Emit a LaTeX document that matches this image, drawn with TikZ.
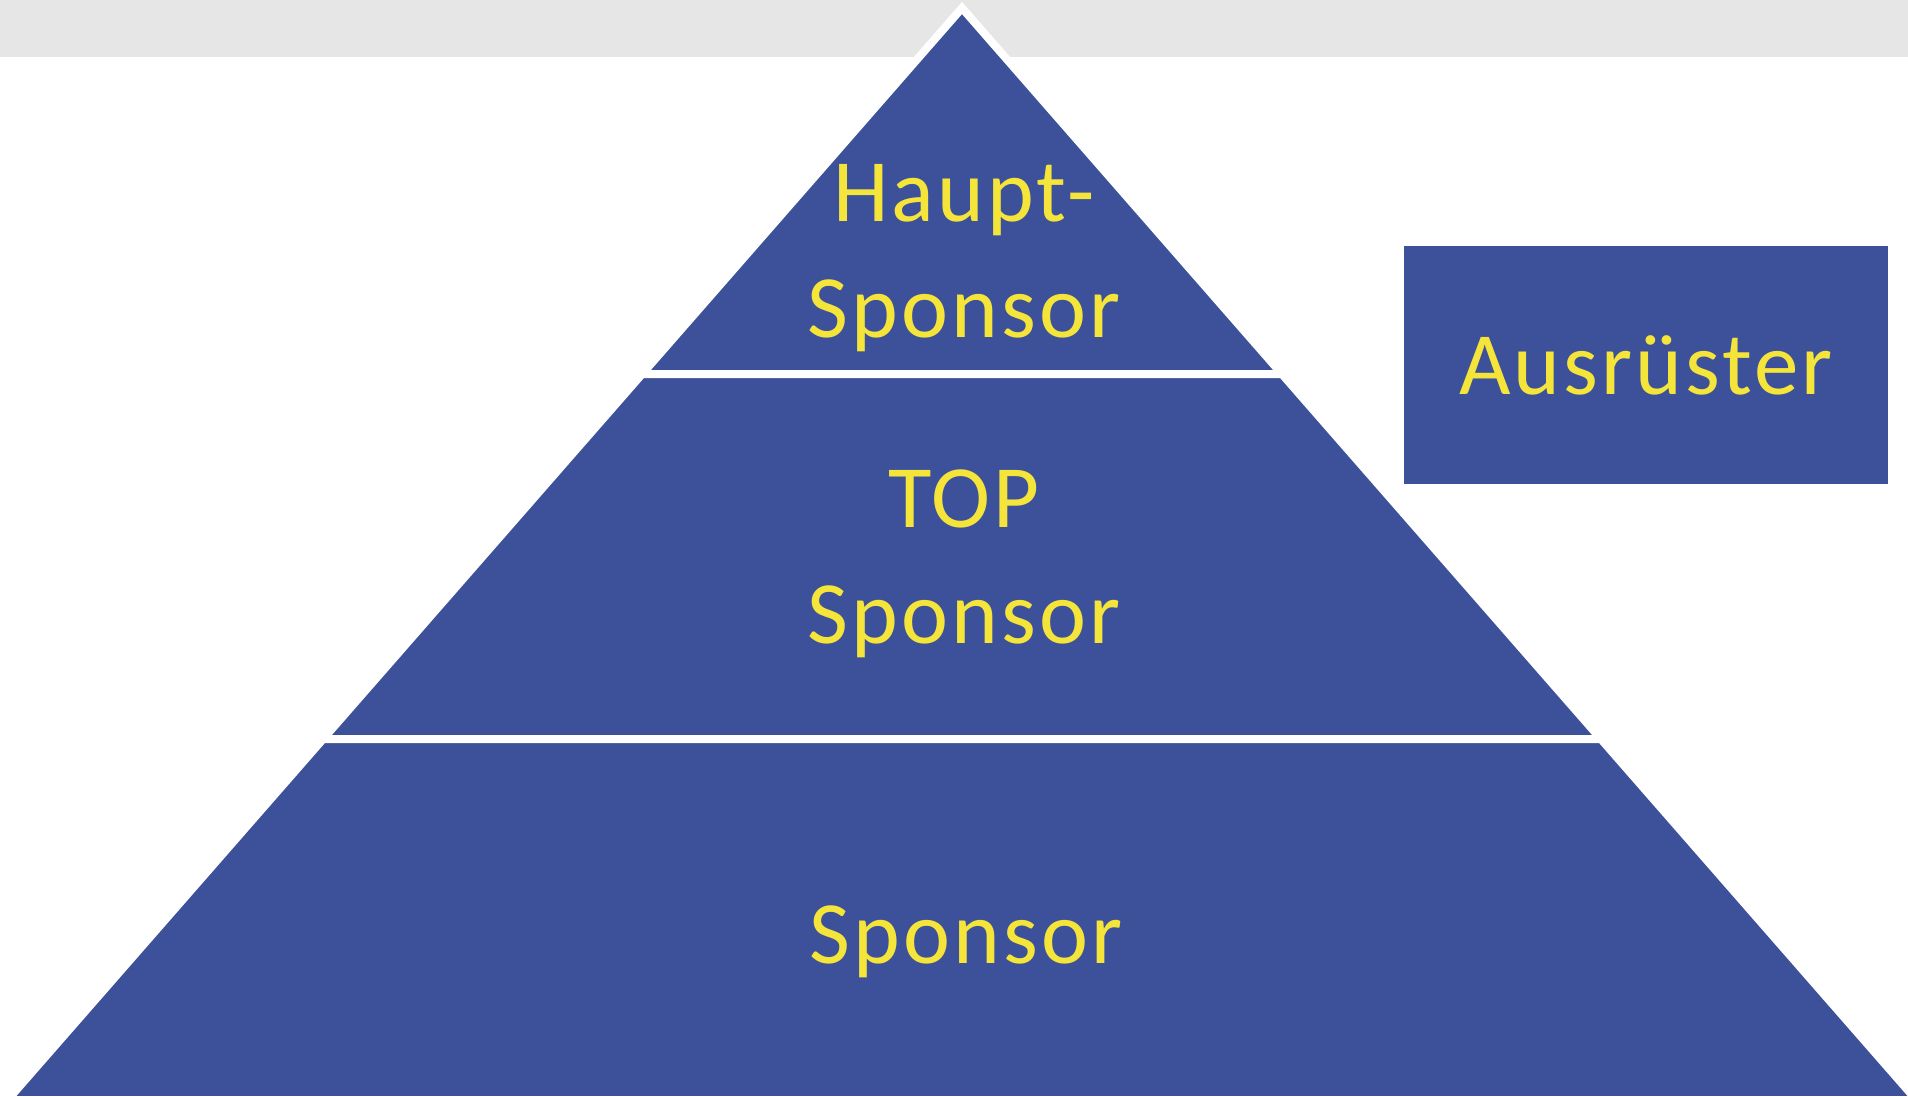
\documentclass[tikz,border=0pt]{standalone}
\usepackage{fontspec}
\setmainfont{Carlito}[LetterSpace=3.5]
\usepackage{tikz}
\usepackage{xcolor}
\usetikzlibrary{positioning}

\definecolor{pyrblue}{HTML}{3C5199}
\definecolor{pyryellow}{HTML}{F5E53A}
\definecolor{bandgray}{HTML}{E6E6E6}

\tikzset{
    tier/.style={fill=pyrblue, draw=white, line width=0.08cm, line join=miter},
    tiertext/.style={text=pyryellow, align=center, inner sep=0pt,
        font=\fontsize{25.3}{33}\selectfont}
}

\begin{document}
\begin{tikzpicture}[x=0.01cm, y=-0.01cm]
            \useasboundingbox (0,0) rectangle (1908,1096);
            \fill[bandgray] (0,0) rectangle (1908,57);

            % corners of the pyramid
            \coordinate (apex) at (962,8);
            \coordinate (l1) at (642.1,374);
            \coordinate (r1) at (1281.9,374);
            \coordinate (l2) at (323.1,739);
            \coordinate (r2) at (1600.9,739);
            \coordinate (l3) at (7.6,1100);
            \coordinate (r3) at (1916.4,1100);

            % tiers
            \draw[tier] (apex) -- (r1) -- (l1) -- cycle;
            \draw[tier] (l1) -- (r1) -- (r2) -- (l2) -- cycle;
            \draw[tier] (l2) -- (r2) -- (r3) -- (l3) -- cycle;

            \node[tiertext] (haupt) at (964,258) {Haupt-\\Sponsor};
            \node[tiertext] (top) at (964,564) {TOP\\Sponsor};
            \node[tiertext, anchor=base] (sponsor) at (966,963) {Sponsor};

            % box on the right
            \node[tiertext, fill=pyrblue, minimum width=4.84cm, minimum height=2.38cm]
                (ausr) at (1646,365) {Ausrüster};
        \end{tikzpicture}
\end{document}
